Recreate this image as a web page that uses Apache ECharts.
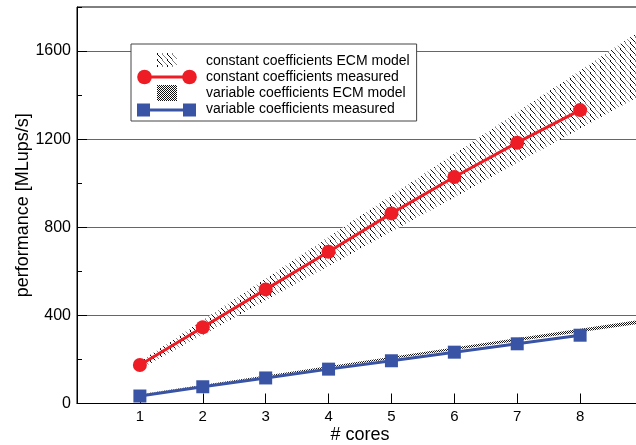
<!DOCTYPE html>
<html><head><meta charset="utf-8">
<script src="https://cdn.jsdelivr.net/npm/echarts@6/dist/echarts.min.js"></script>
<style>html,body{margin:0;padding:0;background:#fff}#c{width:636px;height:445px}</style>
</head><body><div id="c"></div>
<script>
// ---- data ----
const cores = [1, 2, 3, 4, 5, 6, 7, 8];
const constMeasured = [175, 346, 518, 689, 863, 1028, 1184, 1332];
const varMeasured = [34, 76, 116, 156, 194, 233, 271, 310];
const modelCores = [1, 9];
const constModelLow = [156, 1404];
const constModelHigh = [189, 1701];
const varModelLow = [40.5, 364];
const varModelHigh = [42.5, 382];
const seriesNames = ['constant coefficients ECM model', 'constant coefficients measured',
                     'variable coefficients ECM model', 'variable coefficients measured'];
const xTickMin = 1, xTickMax = 8;

// ---- styles ----
const RED = '#ee1c25', BLUE = '#3a54a5';
const FONT = "'Liberation Sans', Arial, Helvetica, sans-serif";

function hatchCanvas() {
  const c = document.createElement('canvas'); c.width = 10; c.height = 6;
  const g = c.getContext('2d');
  g.fillStyle = '#fff'; g.fillRect(0, 0, 10, 6);
  for (let y = 0; y < 6; y++) {
    const x = Math.floor(y * 5 / 6);
    g.fillStyle = '#111'; g.fillRect(x, y, 1, 1);
    g.fillStyle = '#888'; g.fillRect(x + 5, y, 1, 1);
  }
  return c;
}
function checkerCanvas() {
  const c = document.createElement('canvas'); c.width = 2; c.height = 2;
  const g = c.getContext('2d');
  g.fillStyle = '#fff'; g.fillRect(0, 0, 2, 2);
  g.fillStyle = '#111'; g.fillRect(0, 0, 1, 1); g.fillRect(1, 1, 1, 1);
  return c;
}
const hatch = hatchCanvas(), checker = checkerCanvas();

function iconCanvas(draw) {
  const c = document.createElement('canvas'); c.width = 64; c.height = 16;
  const g = c.getContext('2d'); draw(g); return 'image://' + c.toDataURL();
}
const iconHatch = iconCanvas(g => {
  g.fillStyle = g.createPattern(hatch, 'repeat'); g.fillRect(20, 0, 20, 14);
});
const iconChecker = iconCanvas(g => {
  g.fillStyle = g.createPattern(checker, 'repeat'); g.fillRect(20, 0, 20, 16);
});
const iconRed = iconCanvas(g => {
  g.strokeStyle = RED; g.lineWidth = 3; g.beginPath(); g.moveTo(7, 8); g.lineTo(52, 8); g.stroke();
  g.fillStyle = RED;
  g.beginPath(); g.arc(7.5, 8, 7.3, 0, Math.PI * 2); g.fill();
  g.beginPath(); g.arc(52.5, 8, 7.3, 0, Math.PI * 2); g.fill();
});
const iconBlue = iconCanvas(g => {
  g.strokeStyle = BLUE; g.lineWidth = 3; g.beginPath(); g.moveTo(7, 9); g.lineTo(52, 9); g.stroke();
  g.fillStyle = BLUE; g.fillRect(0, 2.5, 13, 13); g.fillRect(46, 2.5, 13, 13);
});

const pair = (xs, ys) => xs.map((x, i) => [x, ys[i]]);
const triple = (xs, lo, hi) => xs.map((x, i) => [x, lo[i], hi[i]]);

function bandRender(pattern) {
  return function (params, api) {
    const i = params.dataIndex;
    if (i >= params.dataInsideLength - 1) return;
    const a = [api.value(0, i), api.value(1, i), api.value(2, i)];
    const b = [api.value(0, i + 1), api.value(1, i + 1), api.value(2, i + 1)];
    const pts = [api.coord([a[0], a[1]]), api.coord([b[0], b[1]]),
                 api.coord([b[0], b[2]]), api.coord([a[0], a[2]])];
    return {type: 'polygon', shape: {points: pts}, style: {fill: {image: pattern, repeat: 'repeat'}, stroke: null}};
  };
}

const chart = echarts.init(document.getElementById('c'), null, {renderer: 'canvas'});
chart.setOption({
  animation: false,
  textStyle: {fontFamily: FONT},
  grid: {left: 77, top: 7, width: 566, height: 396.5, show: true, borderColor: '#000', borderWidth: 1,
         backgroundColor: 'transparent', containLabel: false, outerBoundsMode: 'none'},
  legend: {
    orient: 'vertical', left: 131, top: 44, padding: [9, 7, 4, 6],
    backgroundColor: '#fff', borderColor: '#444', borderWidth: 1, borderRadius: 0,
    itemWidth: 64, itemHeight: 16, itemGap: 0, selectedMode: false,
    textStyle: {fontSize: 14, color: '#000', fontFamily: FONT, lineHeight: 16},
    data: [
      {name: seriesNames[0], icon: iconHatch},
      {name: seriesNames[1], icon: iconRed},
      {name: seriesNames[2], icon: iconChecker},
      {name: seriesNames[3], icon: iconBlue}
    ]
  },
  xAxis: {
    type: 'value', min: 0, max: 9, interval: 1,
    axisLine: {show: true, lineStyle: {color: '#000', width: 1}},
    axisTick: {show: true, inside: true, length: 10, lineStyle: {color: '#000'}},
    axisLabel: {fontSize: 15, color: '#000', margin: 6, fontFamily: FONT,
      formatter: v => (v >= xTickMin && v <= xTickMax) ? String(v) : ''},
    splitLine: {show: false},
    name: '# cores', nameLocation: 'middle', nameGap: 23, nameMoveOverlap: false,
    nameTextStyle: {fontSize: 18, color: '#000', fontFamily: FONT}
  },
  yAxis: [{
    type: 'value', min: 0, max: 1800, interval: 400,
    axisLine: {show: true, lineStyle: {color: '#000', width: 1}},
    axisTick: {show: true, inside: true, length: 10, lineStyle: {color: '#000'}},
    axisLabel: {fontSize: 16, color: '#000', margin: 6, showMaxLabel: false, fontFamily: FONT,
      formatter: v => String(v)},
    splitLine: {show: true, showMinLine: false, showMaxLine: false, lineStyle: {color: '#666', width: 1}},
    name: 'performance [MLups/s]', nameLocation: 'middle', nameGap: 45, nameMoveOverlap: false,
    nameTextStyle: {fontSize: 18, color: '#000', fontFamily: FONT}
  }, {
    type: 'value', min: 0, max: 1800, interval: 200, position: 'left', offset: 0,
    axisLine: {show: false},
    axisTick: {show: true, inside: true, length: 5, lineStyle: {color: '#000'}},
    axisLabel: {show: false}, splitLine: {show: false}
  }],
  series: [
    {type: 'custom', name: seriesNames[0], data: triple(modelCores, constModelLow, constModelHigh),
     encode: {x: 0, y: [1, 2]}, renderItem: bandRender(hatch), clip: true, silent: true, z: 1, color: '#333'},
    {type: 'custom', name: seriesNames[2], data: triple(modelCores, varModelLow, varModelHigh),
     encode: {x: 0, y: [1, 2]}, renderItem: bandRender(checker), clip: true, silent: true, z: 1, color: '#333'},
    {type: 'line', name: seriesNames[1], data: pair(cores, constMeasured), color: RED,
     symbol: 'circle', symbolSize: 14, lineStyle: {color: RED, width: 3}, itemStyle: {color: RED}, z: 3},
    {type: 'line', name: seriesNames[3], data: pair(cores, varMeasured), color: BLUE,
     symbol: 'rect', symbolSize: 13, lineStyle: {color: BLUE, width: 3}, itemStyle: {color: BLUE}, z: 3}
  ]
});
</script></body></html>
